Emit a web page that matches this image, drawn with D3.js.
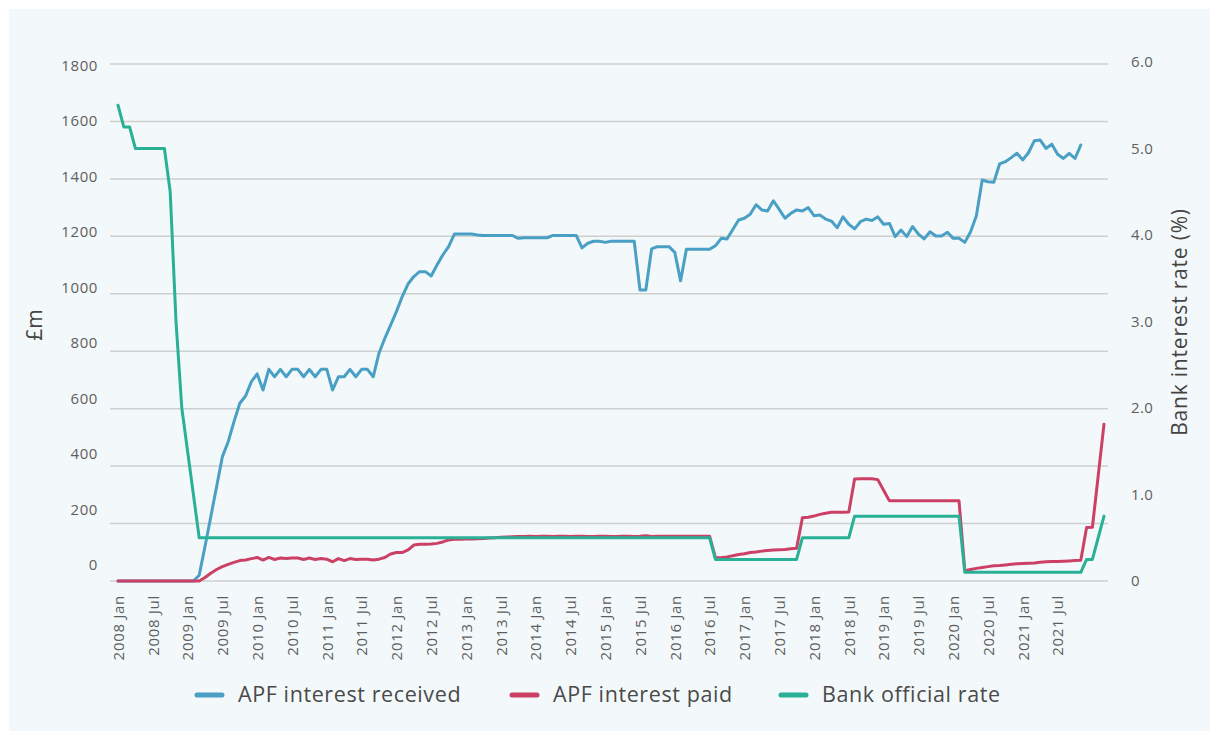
<!DOCTYPE html>
<html><head><meta charset="utf-8">
<script src="https://cdn.jsdelivr.net/npm/d3@7/dist/d3.min.js"></script>
<style>
body{margin:0;background:#fff;}
svg text{font-family:"Open Sans",sans-serif;}
</style></head>
<body><svg id="c" width="1210" height="731"></svg>
<script>
const years = [2008,2009,2010,2011,2012,2013,2014,2015,2016,2017,2018,2019,2020,2021,2022];
const monthNames = ["Jan","Feb","Mar","Apr","May","Jun","Jul","Aug","Sep","Oct","Nov","Dec"];
const lastYearMonths = 3;
const tickLabelMonths = ["Jan","Jul"];
const tickLastLabel = "2021 Jul";

const apfReceived = [
 0,0,0,0,0,0,0,0,0,0,0,0,
 0,0,20,120,224,328,433,485,555,619,644,694,
 721,665,737,711,737,711,737,737,711,737,711,737,
 737,665,711,711,737,711,737,737,711,793,845,891,
 938,990,1034,1060,1077,1077,1062,1100,1135,1164,1208,1208,
 1208,1208,1205,1203,1203,1203,1203,1203,1203,1193,1195,1195,
 1195,1195,1195,1203,1203,1203,1203,1203,1160,1176,1183,1183,
 1179,1183,1183,1183,1183,1183,1013,1013,1156,1164,1164,1164,
 1144,1045,1155,1155,1155,1155,1155,1167,1193,1191,1224,1257,
 1263,1277,1310,1292,1288,1324,1294,1263,1280,1292,1288,1300,
 1272,1274,1260,1253,1230,1268,1242,1226,1251,1260,1255,1268,
 1242,1245,1199,1222,1199,1234,1208,1191,1216,1201,1201,1214,
 1193,1193,1179,1216,1272,1396,1390,1388,1452,1460,1474,1489,
 1466,1492,1533,1535,1506,1521,1486,1471,1489,1471,1518,null,
 null,null,null
];
const apfPaid = [
 0,0,0,0,0,0,0,0,0,0,0,0,
 0,0,0,12,27,40,50,58,65,71,73,78,
 82,73,82,75,80,78,80,80,75,80,75,78,
 76,67,78,71,78,75,76,76,73,76,82,94,
 99,99,108,125,128,128,129,131,136,143,145,145,
 146,146,147,148,150,151,152,153,154,155,155,156,
 155,156,156,155,156,156,155,156,156,155,155,156,
 156,155,155,156,156,155,156,158,155,156,156,156,
 156,156,156,156,156,156,156,81,81,84,88,92,
 95,99,101,104,106,108,109,110,112,114,220,222,
 226,232,236,239,239,239,240,355,356,356,356,353,
 316,279,279,279,279,279,279,279,279,279,279,279,
 279,279,36,40,44,47,50,53,54,56,58,60,
 61,62,63,65,67,68,68,69,70,71,72,186,
 187,366,546
];
const bankRate = [
 5.5,5.25,5.25,5,5,5,5,5,5,4.5,3,2,
 1.5,1,0.5,0.5,0.5,0.5,0.5,0.5,0.5,0.5,0.5,0.5,
 0.5,0.5,0.5,0.5,0.5,0.5,0.5,0.5,0.5,0.5,0.5,0.5,
 0.5,0.5,0.5,0.5,0.5,0.5,0.5,0.5,0.5,0.5,0.5,0.5,
 0.5,0.5,0.5,0.5,0.5,0.5,0.5,0.5,0.5,0.5,0.5,0.5,
 0.5,0.5,0.5,0.5,0.5,0.5,0.5,0.5,0.5,0.5,0.5,0.5,
 0.5,0.5,0.5,0.5,0.5,0.5,0.5,0.5,0.5,0.5,0.5,0.5,
 0.5,0.5,0.5,0.5,0.5,0.5,0.5,0.5,0.5,0.5,0.5,0.5,
 0.5,0.5,0.5,0.5,0.5,0.5,0.5,0.25,0.25,0.25,0.25,0.25,
 0.25,0.25,0.25,0.25,0.25,0.25,0.25,0.25,0.25,0.25,0.5,0.5,
 0.5,0.5,0.5,0.5,0.5,0.5,0.5,0.75,0.75,0.75,0.75,0.75,
 0.75,0.75,0.75,0.75,0.75,0.75,0.75,0.75,0.75,0.75,0.75,0.75,
 0.75,0.75,0.1,0.1,0.1,0.1,0.1,0.1,0.1,0.1,0.1,0.1,
 0.1,0.1,0.1,0.1,0.1,0.1,0.1,0.1,0.1,0.1,0.1,0.25,
 0.25,0.5,0.75
];
const leftTicks = [0,200,400,600,800,1000,1200,1400,1600,1800];
const rightTicks = [0,1,2,3,4,5,6];
const seriesNames = ["APF interest received","APF interest paid","Bank official rate"];
const seriesColors = ["#4a9fc4","#cc4066","#2ab096"];

// categories
const months = [];
years.forEach((y,yi)=>{
  const n = (yi === years.length-1) ? lastYearMonths : 12;
  for(let m=0;m<n;m++) months.push(y+" "+monthNames[m]);
});
const tickCats = months.filter(d => tickLabelMonths.includes(d.split(" ")[1]) && months.indexOf(d) <= months.indexOf(tickLastLabel));

const svg = d3.select("#c");
svg.append("rect").attr("x",9).attr("y",9).attr("width",1201).attr("height",722).attr("fill","#f3f9fa");

const x = d3.scalePoint().domain(months).range([118,1104]);
const y = d3.scaleLinear().domain([0,1800]).range([581,64]);
const yLab = d3.scaleLinear().domain([0,1800]).range([565,65.5]);
const yR = d3.scaleLinear().domain([0,6]).range([581,62]);

// gridlines
svg.append("g").selectAll("line").data(leftTicks).join("line")
  .attr("x1",110).attr("x2",1108)
  .attr("y1",d=>y(d)).attr("y2",d=>y(d))
  .attr("stroke","#cfcfcf").attr("stroke-width",1.5);

// left labels
const gl = svg.append("g").attr("transform","translate(98,0)")
  .call(d3.axisLeft(yLab).tickValues(leftTicks).tickSize(0).tickPadding(0).tickFormat(d3.format("d")));
gl.select(".domain").remove();
gl.selectAll("text").attr("font-size",15).attr("letter-spacing","0.6px").attr("fill","#5e5e5e").attr("font-family","'Open Sans',sans-serif");

// right labels
const gr = svg.append("g").attr("transform","translate(1131,0)")
  .call(d3.axisRight(yR).tickValues(rightTicks).tickSize(0).tickPadding(0).tickFormat(d=>d===0?"0":d3.format(".1f")(d)));
gr.select(".domain").remove();
gr.selectAll("text").attr("font-size",15).attr("letter-spacing","0.4px").attr("fill","#5e5e5e").attr("font-family","'Open Sans',sans-serif");

// x labels
const gx = svg.append("g").attr("transform","translate(0,595)")
  .call(d3.axisBottom(x).tickValues(tickCats).tickSize(0).tickPadding(0));
gx.select(".domain").remove();
gx.selectAll("text").attr("font-size",15).attr("letter-spacing","0.7px").attr("fill","#5e5e5e")
  .attr("font-family","'Open Sans',sans-serif")
  .attr("transform","rotate(-90)").attr("text-anchor","end")
  .attr("x",0).attr("y",0).attr("dy","0.35em").attr("dx",0);

// axis titles
svg.append("text").attr("transform","translate(42,325) rotate(-90)")
  .attr("text-anchor","middle").attr("font-size",21).attr("fill","#444").text("£m");
svg.append("text").attr("transform","translate(1187,322) rotate(-90)")
  .attr("text-anchor","middle").attr("font-size",21).attr("letter-spacing","0.8px").attr("fill","#444").text("Bank interest rate (%)");

// lines
const lineL = d3.line().defined(d=>d!=null).x((d,i)=>x(months[i])).y(d=>y(d));
const lineR = d3.line().defined(d=>d!=null).x((d,i)=>x(months[i])).y(d=>yR(d));
[[apfReceived,lineL,0],[apfPaid,lineL,1],[bankRate,lineR,2]].forEach(([data,gen,k])=>{
  svg.append("path").datum(data).attr("d",gen).attr("fill","none")
    .attr("stroke",seriesColors[k]).attr("stroke-width",3)
    .attr("stroke-linejoin","round").attr("stroke-linecap","round");
});

// legend
const legX = [195,510,779];
const lg = svg.append("g");
seriesNames.forEach((n,k)=>{
  lg.append("line").attr("x1",legX[k]+2).attr("x2",legX[k]+27).attr("y1",695).attr("y2",695)
    .attr("stroke",seriesColors[k]).attr("stroke-width",5).attr("stroke-linecap","round");
  lg.append("text").attr("x",legX[k]+43).attr("y",702).attr("font-size",21.5).attr("letter-spacing","0.6px").attr("fill","#4a4a4a").text(n);
});
</script></body></html>
